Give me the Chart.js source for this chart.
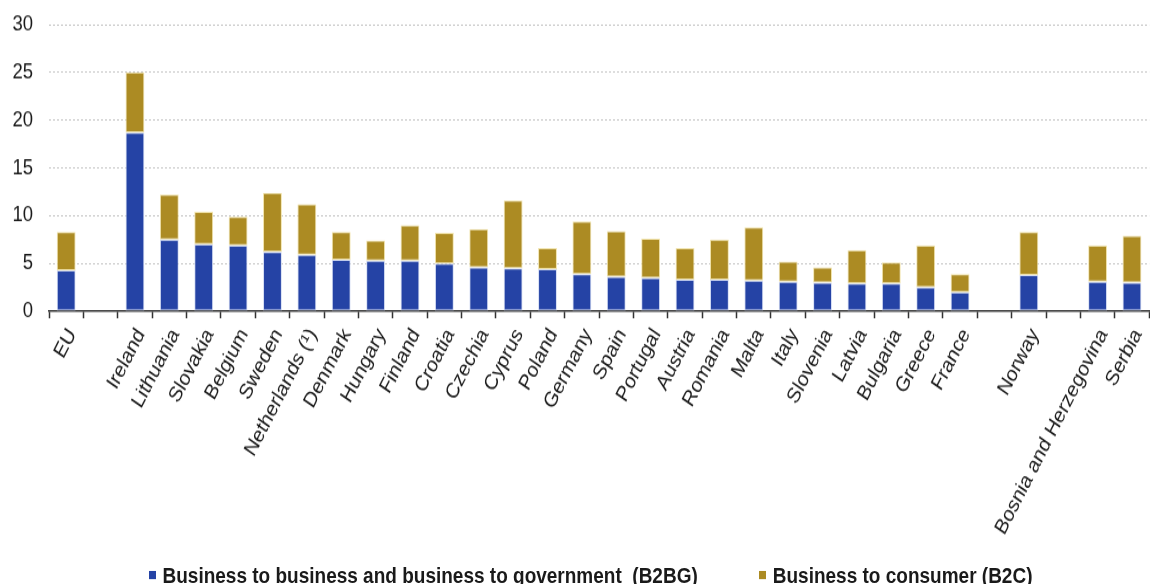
<!DOCTYPE html>
<html lang="en">
<head>
  <meta charset="UTF-8" />
  <title>B2BG and B2C share</title>
  <script src="https://cdn.jsdelivr.net/npm/chart.js"></script>
  <style>
    html { overflow: hidden; background: #fff; height: 584px; }
    body { margin: 0; padding: 0; height: 584px; }
    /* the chart is drawn a bit flatter and stretched vertically */
    #wrap { position: relative; transform: scaleY(1.17); transform-origin: 0 0; width: 1156px; height: 584px; }
    canvas { display: block; }
    #legend {
      position: absolute; left: 0; top: 482px; width: 1156px; box-sizing: border-box;
      padding-left: 25px; display: flex; justify-content: center; gap: 61px;
      font: bold 19px 'Liberation Sans', Arial, sans-serif; line-height: 19px; color: #1a1a1a;
    }
    #legend .item { display: flex; align-items: center; white-space: pre; }
    #legend .box { width: 7px; height: 7px; margin-right: 7px; }
  </style>
</head>
<body>
  <div id="wrap">
    <canvas id="chart" width="1156" height="470"></canvas>
    <div id="legend"></div>
  </div>

  <script>
    // empty strings leave a gap between groups of countries
    const countries = [
      'EU', '',
      'Ireland', 'Lithuania', 'Slovakia', 'Belgium', 'Sweden', 'Netherlands (¹)',
      'Denmark', 'Hungary', 'Finland', 'Croatia', 'Czechia', 'Cyprus', 'Poland',
      'Germany', 'Spain', 'Portugal', 'Austria', 'Romania', 'Malta', 'Italy',
      'Slovenia', 'Latvia', 'Bulgaria', 'Greece', 'France', '',
      'Norway', '',
      'Bosnia and Herzegovina', 'Serbia'
    ];
    const b2bg = [
      4.3, null,
      18.7, 7.5, 7.0, 6.9, 6.2, 5.9,
      5.4, 5.3, 5.3, 5.0, 4.6, 4.5, 4.4,
      3.9, 3.6, 3.5, 3.3, 3.3, 3.2, 3.1,
      3.0, 2.9, 2.9, 2.5, 2.0, null,
      3.8, null,
      3.1, 3.0
    ];
    const b2c = [
      4.0, null,
      6.3, 4.7, 3.4, 3.0, 6.2, 5.3,
      2.9, 2.1, 3.7, 3.2, 4.0, 7.1, 2.2,
      5.5, 4.8, 4.1, 3.3, 4.2, 5.6, 2.1,
      1.6, 3.5, 2.2, 4.4, 1.9, null,
      4.5, null,
      3.8, 4.9
    ];
    const yTicks = [0, 5, 10, 15, 20, 25, 30];

    const font = "'Liberation Sans', Arial, sans-serif";
    const textColor = '#1a1a1a';

    const ctx = document.getElementById('chart').getContext('2d');
    const chart = new Chart(ctx, {
      type: 'bar',
      data: {
        labels: countries,
        datasets: [
          {
            label: 'Business to business and business to government  (B2BG)',
            data: b2bg,
            backgroundColor: '#2543a5',
            borderColor: '#d6def4',
            borderWidth: 1,
            borderSkipped: false
          },
          {
            label: 'Business to consumer (B2C)',
            data: b2c,
            backgroundColor: '#ac8b23',
            borderColor: '#f1e4ad',
            borderWidth: 1,
            borderSkipped: false
          }
        ]
      },
      options: {
        responsive: false,
        animation: false,
        layout: { padding: { top: 21, left: 0, right: 0, bottom: 0 } },
        datasets: {
          bar: { categoryPercentage: 1, barPercentage: 0.55 }
        },
        scales: {
          x: {
            stacked: true,
            afterFit: (axis) => { axis.height = 204; },
            grid: {
              offset: true,
              drawOnChartArea: false,
              drawTicks: true,
              tickLength: 6,
              tickColor: '#333',
              tickWidth: 1.5
            },
            border: { display: true, color: '#333', width: 1.5 },
            ticks: {
              autoSkip: false,
              minRotation: 59,
              maxRotation: 59,
              padding: 5,
              labelOffset: 6,
              color: textColor,
              font: { family: font, size: 18.5 }
            }
          },
          y: {
            stacked: true,
            min: 0,
            max: 30,
            // fixed width; top label may sit in the layout padding
            afterFit: (axis) => { axis.width = 49; axis.paddingTop = 0; },
            afterBuildTicks: (axis) => { axis.ticks = yTicks.map(v => ({ value: v })); },
            grid: {
              drawTicks: false,
              color: (c) => c.tick && c.tick.value === 0 ? 'rgba(0,0,0,0)' : '#c4c4c4',
              lineWidth: 1
            },
            border: { display: false, dash: [2, 2] },
            ticks: {
              padding: 16,
              color: textColor,
              font: { family: font, size: 18.5 }
            }
          }
        },
        plugins: {
          tooltip: { enabled: false },
          legend: { display: false }
        }
      }
    });

    // legend row under the axis labels, built from the datasets
    const legend = document.getElementById('legend');
    chart.data.datasets.forEach(ds => {
      const item = document.createElement('div');
      item.className = 'item';
      const box = document.createElement('span');
      box.className = 'box';
      box.style.background = ds.backgroundColor;
      item.appendChild(box);
      item.appendChild(document.createTextNode(ds.label));
      legend.appendChild(item);
    });
  </script>
</body>
</html>
